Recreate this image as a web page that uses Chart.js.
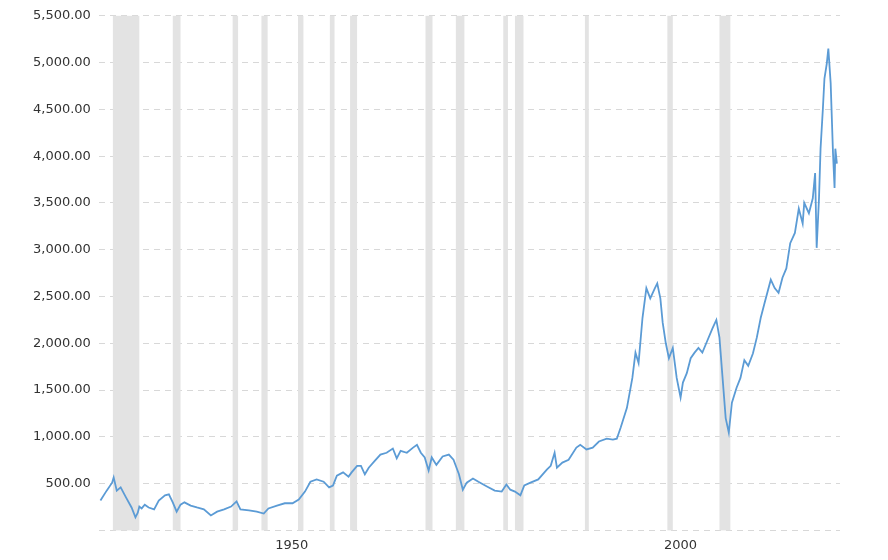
<!DOCTYPE html>
<html><head><meta charset="utf-8">
<script src="https://cdn.jsdelivr.net/npm/chart.js@4"></script>
<style>html,body{margin:0;padding:0;background:#fff}#w{width:888px;height:560px}</style>
</head><body><div id="w"><canvas id="c"></canvas></div>
<script>
const years=[1925.4,1926.2,1926.9,1927.1,1927.5,1928.0,1928.7,1929.4,1929.9,1930.2,1930.4,1930.7,1931.1,1931.6,1932.3,1932.9,1933.7,1934.2,1934.7,1935.2,1935.7,1936.2,1937.0,1937.8,1938.7,1939.6,1940.4,1941.3,1942.2,1942.9,1943.4,1944.5,1945.5,1946.4,1947.0,1948.1,1949.1,1950.1,1950.9,1951.7,1952.4,1953.2,1954.1,1954.8,1955.3,1955.8,1956.6,1957.3,1957.7,1958.4,1958.9,1959.4,1959.9,1960.7,1961.4,1962.2,1963.0,1963.5,1964.0,1964.8,1965.6,1966.1,1966.6,1967.1,1967.6,1968.0,1968.6,1969.4,1970.2,1970.8,1971.5,1972.0,1972.5,1973.3,1974.0,1975.1,1976.1,1977.0,1977.6,1978.1,1978.7,1979.4,1979.9,1980.7,1981.7,1982.8,1983.3,1983.8,1984.1,1984.8,1985.6,1986.6,1987.1,1987.9,1988.7,1989.5,1990.5,1991.3,1991.8,1992.3,1993.1,1993.8,1994.2,1994.6,1995.1,1995.6,1996.1,1996.7,1997.0,1997.4,1997.7,1998.1,1998.5,1999.0,1999.5,2000.0,2000.3,2000.8,2001.3,2001.8,2002.3,2002.8,2003.3,2004.1,2004.6,2005.0,2005.4,2005.8,2006.2,2006.6,2007.2,2007.7,2008.2,2008.7,2009.3,2009.8,2010.3,2010.8,2011.6,2012.1,2012.6,2013.1,2013.6,2014.1,2014.7,2015.2,2015.7,2015.9,2016.5,2017.0,2017.3,2017.5,2017.8,2018.0,2018.3,2018.5,2018.8,2019.0,2019.3,2019.6,2019.8,2019.9,2020.1];
const values=[320,425,510,565,425,460,350,245,140,190,255,235,275,245,225,320,375,385,300,200,275,300,265,245,225,160,200,225,255,310,225,215,200,180,235,265,290,290,330,415,520,545,520,460,480,585,620,575,620,690,690,600,670,745,810,830,875,770,850,830,885,915,830,780,640,780,700,790,810,755,600,435,510,555,520,470,425,415,490,435,415,375,480,510,545,650,690,830,670,725,755,885,915,865,885,950,980,970,980,1100,1310,1630,1900,1790,2270,2590,2480,2590,2640,2480,2220,2000,1840,1950,1630,1420,1580,1680,1840,1900,1950,1900,2000,2160,2250,2060,1630,1200,1045,1365,1525,1630,1820,1760,1890,2060,2270,2430,2680,2590,2540,2700,2800,3070,3180,3440,3280,3500,3390,3550,3820,3020,3550,4080,4510,4830,4990,5150,4780,4030,3660,4080,3920];
const recStart=[1927.0,1934.7,1942.4,1946.1,1950.8,1954.9,1957.5,1967.2,1971.1,1977.2,1978.7,1987.7,1998.3,2005.0];
const recEnd=[1930.4,1935.7,1943.1,1946.9,1951.5,1955.5,1958.4,1968.1,1972.2,1977.8,1979.8,1988.2,1999.0,2006.4];
const xTicks=[1950,2000];
const bands={id:'bands',beforeDatasetsDraw(ch){const{ctx,chartArea:a,scales:{x}}=ch;ctx.save();ctx.fillStyle='#e3e3e3';
recStart.forEach((s,i)=>{const l=x.getPixelForValue(s),r=x.getPixelForValue(recEnd[i]);ctx.fillRect(l,a.top,r-l,a.bottom-a.top);});ctx.restore();}};
new Chart(document.getElementById('c'),{type:'line',
data:{datasets:[{data:years.map((y,i)=>({x:y,y:values[i]})),borderColor:'#5b9bd5',borderWidth:1.8,pointRadius:0,tension:0}]},
options:{responsive:true,maintainAspectRatio:false,animation:false,
layout:{padding:{left:25,right:48,top:12,bottom:0}},
plugins:{legend:{display:false},tooltip:{enabled:false}},
scales:{
x:{type:'linear',min:1925.2,max:2020.5,afterBuildTicks(s){s.ticks=xTicks.map(v=>({value:v}));},
 grid:{display:false,drawTicks:false},border:{display:false},
 ticks:{color:'#333',font:{family:'DejaVu Sans',size:13},maxRotation:0,callback:v=>String(v),padding:7}},
y:{min:0,max:5500,afterBuildTicks(s){const t=[];for(let v=0;v<=5500;v+=500)t.push({value:v});s.ticks=t;},
 grid:{color:'#d8d8d8',drawTicks:false},border:{display:false,dash:[6,5]},
 ticks:{color:'#333',font:{family:'DejaVu Sans',size:13},padding:8,
  callback:v=>v===0?'':v.toLocaleString('en-US',{minimumFractionDigits:2,maximumFractionDigits:2})}}}},
plugins:[bands]});
</script></body></html>
